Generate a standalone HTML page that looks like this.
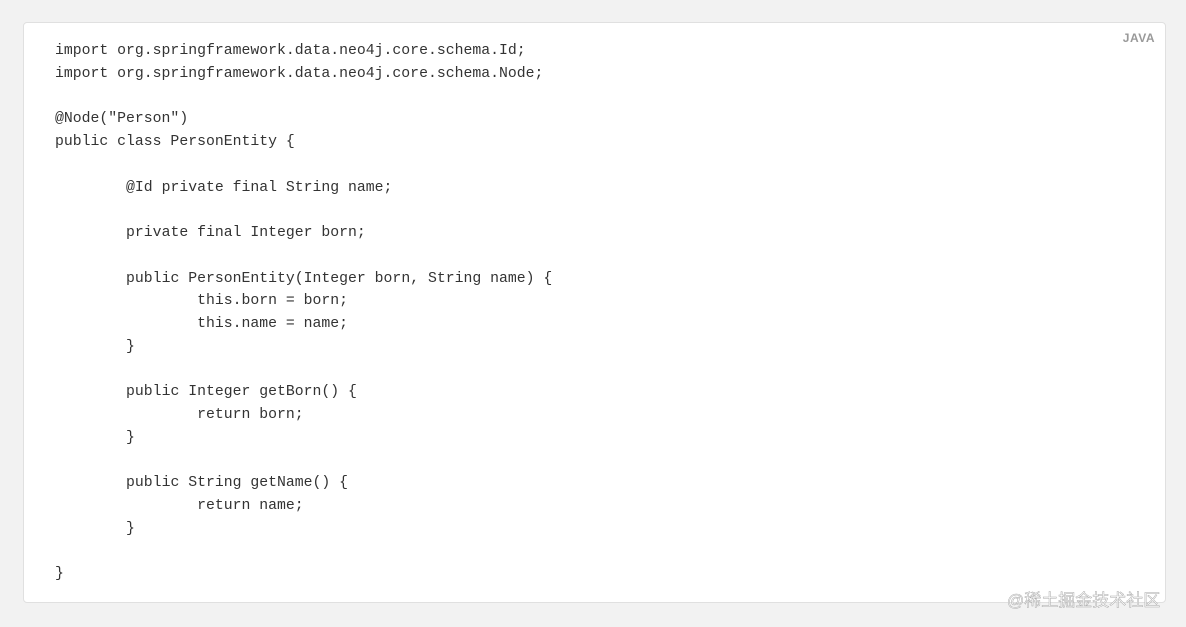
<!DOCTYPE html>
<html><head><meta charset="utf-8"><style>
html,body{margin:0;padding:0;}
body{width:1186px;height:627px;background:#f2f2f2;position:relative;overflow:hidden;}
.box{position:absolute;left:23px;top:22px;width:1141px;height:579px;background:#fff;border:1px solid #e0e0e0;border-radius:4px;}
pre{position:absolute;left:31px;top:17px;margin:0;font-family:"Liberation Mono",monospace;font-size:14.8px;line-height:22.75px;color:#333;tab-size:8;-moz-tab-size:8;}
.lang{position:absolute;right:10px;top:8px;font-family:"Liberation Sans",sans-serif;font-weight:bold;font-size:12px;color:#999;letter-spacing:0.5px;}
.wm{position:absolute;left:1007px;top:586px;font-family:"Liberation Sans","Noto Sans CJK SC",sans-serif;font-size:17px;color:#fff;-webkit-text-stroke:0.5px #aaa;white-space:nowrap;}
</style></head><body>
<div class="box"><div class="lang">JAVA</div>
<pre>import org.springframework.data.neo4j.core.schema.Id;
import org.springframework.data.neo4j.core.schema.Node;

@Node("Person")
public class PersonEntity {

	@Id private final String name;

	private final Integer born;

	public PersonEntity(Integer born, String name) {
		this.born = born;
		this.name = name;
	}

	public Integer getBorn() {
		return born;
	}

	public String getName() {
		return name;
	}

}</pre></div>
<div class="wm">@稀土掘金技术社区</div>
</body></html>
